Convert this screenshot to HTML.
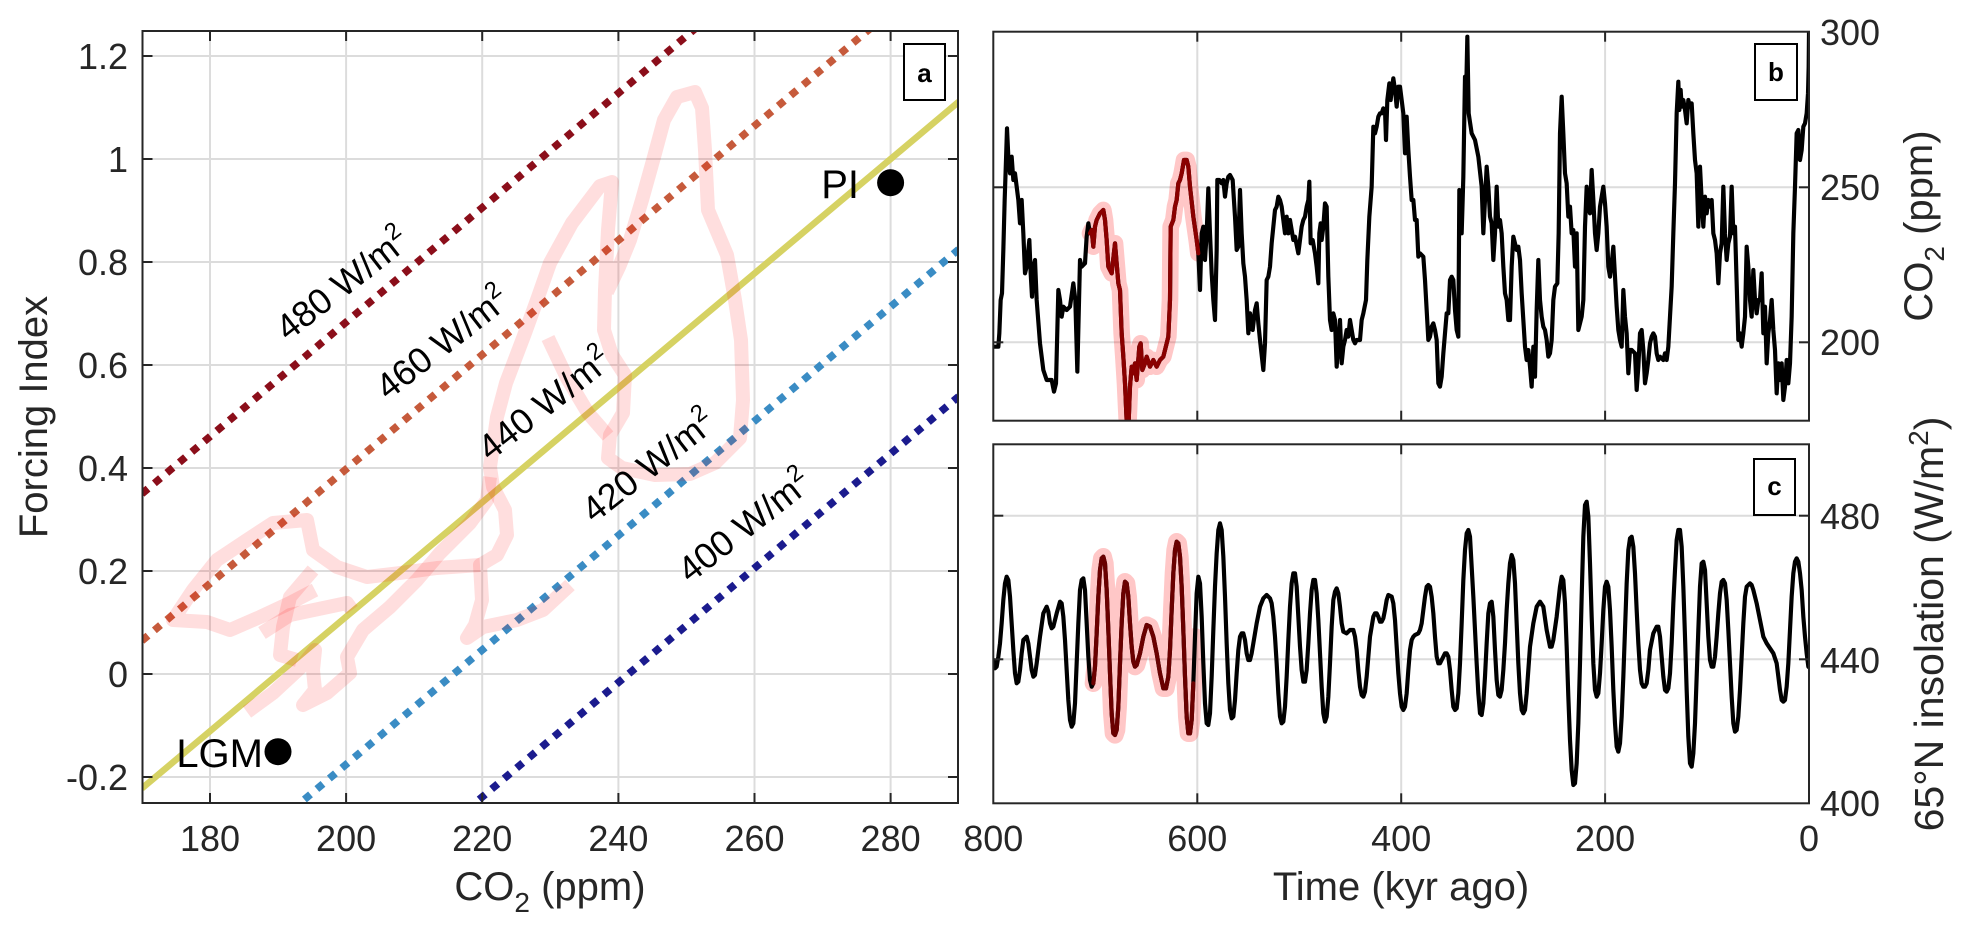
<!DOCTYPE html>
<html>
<head>
<meta charset="utf-8">
<style>
html,body{margin:0;padding:0;background:#fff;width:1971px;height:939px;overflow:hidden;}
svg{display:block;overflow:hidden;}
text{font-family:"Liberation Sans",Arial,sans-serif;}
</style>
</head>
<body>
<svg width="1971" height="939" viewBox="0 0 1971 939" xmlns="http://www.w3.org/2000/svg">
<defs>
<clipPath id="ca"><rect x="142.5" y="31" width="815.5" height="772"/></clipPath>
<clipPath id="cb"><rect x="993.3" y="31.7" width="815.7" height="389"/></clipPath>
<clipPath id="cc"><rect x="993.3" y="444.3" width="815.7" height="359"/></clipPath>
</defs>
<rect width="1971" height="939" fill="#fff"/>

<!-- ================= PANEL A ================= -->
<g stroke="#dcdcdc" stroke-width="2" fill="none">
<line x1="210" y1="31" x2="210" y2="803"/>
<line x1="346.1" y1="31" x2="346.1" y2="803"/>
<line x1="482.2" y1="31" x2="482.2" y2="803"/>
<line x1="618.4" y1="31" x2="618.4" y2="803"/>
<line x1="754.5" y1="31" x2="754.5" y2="803"/>
<line x1="890.6" y1="31" x2="890.6" y2="803"/>
<line x1="142.5" y1="777" x2="958" y2="777"/>
<line x1="142.5" y1="674" x2="958" y2="674"/>
<line x1="142.5" y1="571" x2="958" y2="571"/>
<line x1="142.5" y1="468" x2="958" y2="468"/>
<line x1="142.5" y1="365" x2="958" y2="365"/>
<line x1="142.5" y1="262" x2="958" y2="262"/>
<line x1="142.5" y1="159" x2="958" y2="159"/>
<line x1="142.5" y1="56" x2="958" y2="56"/>
</g>

<g clip-path="url(#ca)" fill="none">
<line x1="141.9" y1="493.8" x2="699.5" y2="25" stroke="#8b0e1a" stroke-width="7.5" stroke-dasharray="8 8.3"/>
<line x1="141.9" y1="640.8" x2="874.4" y2="25" stroke="#c65a3b" stroke-width="7.5" stroke-dasharray="8 8.3"/>
<line x1="141.9" y1="788.4" x2="958.7" y2="101.8" stroke="#d6d263" stroke-width="6.5"/>
<line x1="291.9" y1="810" x2="958.7" y2="249.4" stroke="#3a8cc4" stroke-width="7.5" stroke-dasharray="8 8.3"/>
<line x1="466.7" y1="810" x2="958.7" y2="396.5" stroke="#1b1b8e" stroke-width="7.5" stroke-dasharray="8 8.3"/>

<g stroke="#ff0000" stroke-opacity="0.13" stroke-width="14" stroke-linejoin="round" stroke-linecap="butt">
<polyline points="570,585 543,610 517,620 483,627 467,638 475,625 482,600 480,565 497,555 507,535 505,510 493,487 490,467 497,417 506,383 525,333 537,300 550,263 572,223 600,186 612,182 608,230 605,290 604,330 612,355 625,375 623,413 610,435 608,458 622,468 655,475 690,474 715,463 740,438 743,400 741,340 735,300 727,255 708,210 705,150 702,108 695,92 677,97 664,120 654,157 642,200 630,240 619,267 607,292"/>
<polyline points="548,338 567,378 588,413 608,436"/>
<polyline points="480,565 437,568 400,573 367,577 337,567 313,550 307,520 273,523 247,540 217,560 193,590 173,620 207,622 230,630 260,617 290,603 315,590"/>
<polyline points="313,570 290,597 283,627 280,655 297,660"/>
<polyline points="262,633 290,615 347,603 352,610"/>
<polyline points="247,712 273,693 300,668 315,650 313,670 315,690 303,705 327,693 350,673 347,657 363,630 390,607 417,580 440,553 470,523 487,500 490,477"/>
</g>
</g>

<!-- line labels -->
<g font-size="36" fill="#000">
<text transform="translate(288,342) rotate(-38)">480 W/m<tspan dy="-15" font-size="24">2</tspan></text>
<text transform="translate(388,401) rotate(-38)">460 W/m<tspan dy="-15" font-size="24">2</tspan></text>
<text transform="translate(490,462) rotate(-38)">440 W/m<tspan dy="-15" font-size="24">2</tspan></text>
<text transform="translate(594,524) rotate(-38)">420 W/m<tspan dy="-15" font-size="24">2</tspan></text>
<text transform="translate(690,584) rotate(-38)">400 W/m<tspan dy="-15" font-size="24">2</tspan></text>
</g>

<!-- PI / LGM -->
<circle cx="890.6" cy="182.7" r="13.5" fill="#000"/>
<text x="859" y="198" font-size="40" text-anchor="end" fill="#000">PI</text>
<circle cx="278" cy="751.7" r="13.5" fill="#000"/>
<text x="263" y="767" font-size="40" text-anchor="end" fill="#000">LGM</text>

<!-- frame a -->
<rect x="142.5" y="31" width="815.5" height="772" fill="none" stroke="#262626" stroke-width="2"/>
<g stroke="#262626" stroke-width="2">
<line x1="210" y1="803" x2="210" y2="793"/><line x1="210" y1="31" x2="210" y2="41"/>
<line x1="346.1" y1="803" x2="346.1" y2="793"/><line x1="346.1" y1="31" x2="346.1" y2="41"/>
<line x1="482.2" y1="803" x2="482.2" y2="793"/><line x1="482.2" y1="31" x2="482.2" y2="41"/>
<line x1="618.4" y1="803" x2="618.4" y2="793"/><line x1="618.4" y1="31" x2="618.4" y2="41"/>
<line x1="754.5" y1="803" x2="754.5" y2="793"/><line x1="754.5" y1="31" x2="754.5" y2="41"/>
<line x1="890.6" y1="803" x2="890.6" y2="793"/><line x1="890.6" y1="31" x2="890.6" y2="41"/>
<line x1="142.5" y1="777" x2="152.5" y2="777"/><line x1="958" y1="777" x2="948" y2="777"/>
<line x1="142.5" y1="674" x2="152.5" y2="674"/><line x1="958" y1="674" x2="948" y2="674"/>
<line x1="142.5" y1="571" x2="152.5" y2="571"/><line x1="958" y1="571" x2="948" y2="571"/>
<line x1="142.5" y1="468" x2="152.5" y2="468"/><line x1="958" y1="468" x2="948" y2="468"/>
<line x1="142.5" y1="365" x2="152.5" y2="365"/><line x1="958" y1="365" x2="948" y2="365"/>
<line x1="142.5" y1="262" x2="152.5" y2="262"/><line x1="958" y1="262" x2="948" y2="262"/>
<line x1="142.5" y1="159" x2="152.5" y2="159"/><line x1="958" y1="159" x2="948" y2="159"/>
<line x1="142.5" y1="56" x2="152.5" y2="56"/><line x1="958" y1="56" x2="948" y2="56"/>
</g>
<g font-size="36" fill="#262626" text-anchor="end">
<text x="128" y="790">-0.2</text>
<text x="128" y="687">0</text>
<text x="128" y="584">0.2</text>
<text x="128" y="481">0.4</text>
<text x="128" y="378">0.6</text>
<text x="128" y="275">0.8</text>
<text x="128" y="172">1</text>
<text x="128" y="69">1.2</text>
</g>
<g font-size="36" fill="#262626" text-anchor="middle">
<text x="210" y="851">180</text>
<text x="346.1" y="851">200</text>
<text x="482.2" y="851">220</text>
<text x="618.4" y="851">240</text>
<text x="754.5" y="851">260</text>
<text x="890.6" y="851">280</text>
</g>
<text x="550" y="900" font-size="40" fill="#262626" text-anchor="middle">CO<tspan dy="12" font-size="28">2</tspan><tspan dy="-12"> (ppm)</tspan></text>
<text transform="translate(47,417) rotate(-90)" font-size="40" fill="#262626" text-anchor="middle">Forcing Index</text>

<rect x="904" y="44" width="41" height="56" fill="#fff" stroke="#000" stroke-width="2"/>
<text x="924.5" y="82" font-size="26" font-weight="bold" text-anchor="middle" fill="#000">a</text>

<!-- ================= PANEL B ================= -->
<g stroke="#dcdcdc" stroke-width="2">
<line x1="1197.3" y1="31.7" x2="1197.3" y2="420.7"/>
<line x1="1401.2" y1="31.7" x2="1401.2" y2="420.7"/>
<line x1="1605.1" y1="31.7" x2="1605.1" y2="420.7"/>
<line x1="993.3" y1="187.3" x2="1809" y2="187.3"/>
<line x1="993.3" y1="342.3" x2="1809" y2="342.3"/>
</g>
<g clip-path="url(#cb)">
<g transform="translate(980,0) scale(0.333333)" fill="none" stroke-linejoin="round" stroke-linecap="round">
<polyline stroke="#ff0000" stroke-opacity="0.22" stroke-width="50" points="330,700 335,690 340,740 345,680 350,660 360,640 370,630 375,660 380,720 385,800 395,820 405,730 410,790 415,850 420,870 425,1000 430,1070 435,1150 440,1255 446,1255 450,1160 455,1100 460,1120 465,1090 470,1140 478,1040 482,1030 487,1110 495,1090 500,1070 510,1100 520,1080 530,1100 540,1080 550,1070 560,1030 565,1010 570,900 572,680 580,660 585,620 590,600 595,550 600,540 605,520 612,480 620,480 625,500 630,560 640,650 650,720 655,760"/>
<polyline stroke="#000" stroke-width="12.5" points="40,1040 55,1040 58,1000 62,900 66,880 70,750 74,600 78,480 81,385 85,470 90,520 95,470 100,540 105,520 110,560 115,600 120,670 125,600 130,700 135,820 140,800 148,720 152,820 156,890 160,800 165,780 170,900 180,1030 190,1110 200,1140 215,1140 222,1175 228,1150 235,870 240,900 245,950 250,920 260,930 270,920 280,850 286,900 292,1115 300,780 305,800 315,790 320,710 325,670 330,700 335,690 340,740 345,680 350,660 360,640 370,630 375,660 380,720 385,800 395,820 405,730 410,790 415,850 420,870 425,1000 430,1070 435,1150 440,1265 446,1265 450,1160 455,1100 460,1120 465,1090 470,1140 478,1040 482,1030 487,1110 495,1090 500,1070 510,1100 520,1080 530,1100 540,1080 550,1070 560,1030 565,1010 570,900 572,680 580,660 585,620 590,600 595,550 600,540 605,520 612,480 620,480 625,500 630,560 640,650 650,720 655,760 660,870 665,700 670,680 675,780 680,700 685,565 690,700 695,820 700,900 705,960 710,750 712,540 718,540 725,550 730,540 735,590 740,550 745,530 750,525 758,540 765,650 770,750 775,740 780,570 785,700 790,790 795,830 800,900 805,1000 810,940 818,990 825,930 830,910 835,970 840,1020 850,1110 855,1030 860,840 865,830 870,800 875,730 880,680 885,630 890,620 895,590 900,600 905,620 910,660 915,700 920,650 925,700 930,660 935,690 940,720 945,710 955,760 960,720 965,680 970,660 975,650 980,620 985,600 988,545 992,730 998,720 1005,760 1010,800 1015,850 1018,700 1022,670 1025,720 1030,680 1035,610 1040,620 1045,830 1050,960 1055,990 1060,940 1065,960 1070,1100 1075,1030 1080,960 1085,1090 1090,1040 1095,1020 1100,990 1105,1010 1110,960 1115,990 1120,1020 1125,1030 1130,1020 1140,1020 1145,960 1150,940 1158,900 1162,780 1168,650 1175,560 1180,380 1185,400 1190,380 1195,350 1200,340 1205,340 1210,325 1215,330 1218,420 1222,300 1228,250 1232,300 1235,270 1240,235 1245,270 1250,320 1255,260 1260,260 1265,300 1270,340 1275,460 1280,350 1285,450 1290,530 1295,600 1300,600 1305,660 1310,660 1315,770 1320,760 1330,770 1335,840 1340,930 1345,1020 1350,1010 1355,980 1360,970 1365,990 1370,1020 1375,1150 1380,1160 1385,1130 1390,1060 1395,1000 1400,940 1405,940 1410,840 1415,830 1420,840 1425,930 1430,990 1435,1010 1438,570 1442,580 1445,700 1448,600 1450,530 1455,230 1458,300 1462,110 1466,340 1475,400 1485,420 1495,470 1505,560 1510,700 1515,600 1520,500 1525,560 1530,650 1535,670 1540,780 1545,700 1550,560 1555,680 1560,660 1565,700 1570,800 1575,880 1580,900 1585,960 1590,960 1595,800 1600,710 1605,730 1610,750 1615,740 1620,780 1625,880 1630,960 1635,1040 1640,1080 1645,1050 1650,1100 1655,1160 1660,1040 1665,1130 1670,930 1675,780 1680,900 1685,950 1690,980 1695,990 1700,1020 1705,1070 1710,1060 1715,1020 1720,900 1725,860 1732,850 1736,700 1740,400 1745,290 1750,400 1755,520 1760,550 1765,650 1770,620 1775,700 1780,690 1785,800 1790,700 1795,990 1800,970 1805,950 1810,900 1815,680 1820,560 1825,620 1830,640 1835,510 1840,600 1845,700 1850,750 1855,700 1860,620 1865,590 1870,560 1875,610 1880,680 1885,800 1890,830 1895,790 1900,740 1905,830 1910,920 1915,990 1920,1020 1925,1040 1930,870 1935,950 1940,1000 1945,1120 1950,1050 1955,1050 1965,1060 1970,1170 1975,1100 1980,1000 1985,990 1990,1050 1995,1150 2000,1120 2005,1080 2010,1030 2015,1010 2020,1000 2025,1010 2030,1060 2035,1080 2040,1070 2050,1080 2055,1060 2060,1080 2065,1040 2070,950 2075,860 2080,700 2085,550 2090,340 2095,245 2098,330 2102,270 2105,320 2110,300 2115,330 2120,370 2125,300 2130,320 2135,310 2140,400 2145,480 2150,520 2155,680 2160,500 2165,600 2170,680 2175,590 2180,640 2185,600 2190,620 2195,600 2200,700 2205,720 2210,760 2215,850 2220,760 2225,730 2230,560 2235,700 2240,780 2245,730 2250,710 2255,560 2260,700 2265,680 2270,850 2275,1020 2280,1000 2285,1040 2290,1000 2295,950 2300,740 2305,800 2310,900 2315,950 2320,810 2325,900 2330,940 2335,900 2340,900 2345,820 2350,1000 2355,920 2360,1090 2365,1000 2370,960 2375,900 2380,990 2385,1050 2390,1180 2395,1090 2400,1140 2405,1090 2410,1200 2415,1160 2420,1080 2425,1150 2430,1090 2435,950 2440,700 2445,560 2450,400 2455,390 2460,480 2465,450 2470,380 2475,370 2480,340 2484,280 2486,200 2487,95"/>
<polyline stroke="#8a0000" stroke-width="12.5" points="330,700 335,690 340,740 345,680 350,660 360,640 370,630 375,660 380,720 385,800 395,820 405,730 410,790 415,850 420,870 425,1000 430,1070 435,1150 440,1265 446,1265 450,1160 455,1100 460,1120 465,1090 470,1140 478,1040 482,1030 487,1110 495,1090 500,1070 510,1100 520,1080 530,1100 540,1080 550,1070 560,1030 565,1010 570,900 572,680 580,660 585,620 590,600 595,550 600,540 605,520 612,480 620,480 625,500 630,560 640,650 650,720 655,760"/>
</g>
</g>
<rect x="993.3" y="31.7" width="815.7" height="389" fill="none" stroke="#262626" stroke-width="2"/>
<g stroke="#262626" stroke-width="2">
<line x1="1197.3" y1="31.7" x2="1197.3" y2="41.7"/><line x1="1197.3" y1="420.7" x2="1197.3" y2="410.7"/>
<line x1="1401.2" y1="31.7" x2="1401.2" y2="41.7"/><line x1="1401.2" y1="420.7" x2="1401.2" y2="410.7"/>
<line x1="1605.1" y1="31.7" x2="1605.1" y2="41.7"/><line x1="1605.1" y1="420.7" x2="1605.1" y2="410.7"/>
<line x1="993.3" y1="187.3" x2="1003.3" y2="187.3"/><line x1="1809" y1="187.3" x2="1799" y2="187.3"/>
<line x1="993.3" y1="342.3" x2="1003.3" y2="342.3"/><line x1="1809" y1="342.3" x2="1799" y2="342.3"/>
</g>
<g font-size="36" fill="#262626">
<text x="1820" y="45">300</text>
<text x="1820" y="200">250</text>
<text x="1820" y="355">200</text>
</g>
<text transform="translate(1932,226) rotate(-90)" font-size="40" fill="#262626" text-anchor="middle">CO<tspan dy="12" font-size="28">2</tspan><tspan dy="-12"> (ppm)</tspan></text>
<rect x="1755" y="44" width="42" height="56" fill="#fff" stroke="#000" stroke-width="2"/>
<text x="1776" y="81" font-size="26" font-weight="bold" text-anchor="middle" fill="#000">b</text>

<!-- ================= PANEL C ================= -->
<g stroke="#dcdcdc" stroke-width="2">
<line x1="1197.3" y1="444.3" x2="1197.3" y2="803.3"/>
<line x1="1401.2" y1="444.3" x2="1401.2" y2="803.3"/>
<line x1="1605.1" y1="444.3" x2="1605.1" y2="803.3"/>
<line x1="993.3" y1="515.7" x2="1809" y2="515.7"/>
<line x1="993.3" y1="659.3" x2="1809" y2="659.3"/>
</g>
<g clip-path="url(#cc)">
<g transform="translate(980,430) scale(0.333333)" fill="none" stroke-linejoin="round" stroke-linecap="round">
<polyline stroke="#ff0000" stroke-opacity="0.22" stroke-width="52" points="340,760 345,710 350,610 355,500 360,420 365,385 370,380 375,400 380,480 385,600 390,730 395,850 400,910 405,915 410,900 415,830 420,700 425,580 430,490 435,455 440,460 445,500 450,580 455,650 460,695 465,710 470,705 480,670 490,620 500,585 510,590 520,620 530,670 540,730 550,775 558,775 565,740 570,660 575,540 580,430 585,360 590,335 595,340 600,380 605,470 610,600 615,740 620,860 625,910 630,910 635,870 640,760 645,620"/>
<polyline stroke="#000" stroke-width="12.5" points="40,690 45,715 50,710 55,680 60,640 65,580 70,510 75,460 80,440 85,450 90,500 95,580 100,660 105,730 110,760 115,755 120,720 125,670 130,630 140,620 145,640 150,680 155,720 160,740 165,735 170,700 180,620 190,550 200,530 205,545 210,580 215,595 220,590 230,550 240,515 245,520 250,560 255,630 260,720 265,810 270,870 275,890 280,880 285,820 290,700 295,580 300,480 305,450 310,445 315,480 320,580 325,680 330,750 335,770 340,760 345,710 350,610 355,500 360,420 365,385 370,380 375,400 380,480 385,600 390,730 395,850 400,910 405,915 410,900 415,830 420,700 425,580 430,490 435,455 440,460 445,500 450,580 455,650 460,695 465,710 470,705 480,670 490,620 500,585 510,590 520,620 530,670 540,730 550,775 558,775 565,740 570,660 575,540 580,430 585,360 590,335 595,340 600,380 605,470 610,600 615,740 620,860 625,910 630,910 635,870 640,760 645,620 650,490 655,440 660,460 665,560 670,700 675,820 680,880 685,885 690,850 695,740 700,600 705,470 710,370 715,300 720,280 725,300 730,380 735,500 740,640 745,760 750,840 755,865 760,860 765,810 770,730 775,660 780,620 785,610 790,610 795,630 800,670 805,690 810,690 815,670 820,640 830,580 840,530 850,505 860,495 870,505 875,520 880,560 885,620 890,700 895,790 900,860 905,880 910,875 915,830 920,740 925,630 930,530 935,460 940,430 945,430 950,470 955,560 960,650 965,720 970,755 975,755 980,720 985,640 990,550 995,480 1000,450 1005,450 1010,490 1015,570 1020,670 1025,770 1030,850 1035,875 1040,860 1045,800 1050,700 1055,590 1060,510 1065,485 1070,475 1075,490 1080,530 1085,580 1090,605 1100,610 1110,600 1120,600 1125,620 1130,660 1135,720 1140,770 1145,795 1150,800 1155,785 1160,740 1165,680 1170,620 1180,560 1185,550 1190,550 1195,560 1200,575 1205,575 1210,565 1215,540 1220,510 1225,495 1235,500 1240,520 1245,570 1250,650 1255,730 1260,790 1265,830 1270,840 1275,830 1280,790 1285,720 1290,660 1295,630 1300,620 1305,615 1315,610 1320,600 1325,580 1330,540 1335,500 1340,470 1345,465 1350,470 1355,500 1360,550 1365,620 1370,680 1375,700 1380,700 1385,690 1390,680 1395,670 1400,670 1405,680 1410,720 1415,780 1420,830 1425,840 1430,835 1435,790 1440,700 1445,580 1450,450 1455,360 1460,310 1465,300 1470,320 1480,500 1490,700 1495,790 1500,850 1505,855 1510,820 1515,740 1520,640 1525,550 1530,520 1535,515 1540,560 1545,660 1550,750 1555,795 1560,800 1565,780 1570,720 1575,640 1580,540 1585,460 1590,400 1595,375 1600,390 1605,460 1610,580 1615,700 1620,790 1625,840 1630,850 1635,840 1640,790 1645,720 1650,650 1660,580 1670,530 1680,515 1690,530 1700,600 1710,650 1715,650 1720,630 1730,560 1740,470 1745,440 1750,450 1755,520 1760,650 1765,800 1770,930 1775,1020 1780,1065 1785,1060 1790,1000 1795,880 1800,700 1805,500 1810,320 1815,225 1820,215 1825,260 1830,400 1835,560 1840,700 1845,780 1850,800 1855,790 1860,730 1865,640 1870,540 1875,470 1880,455 1885,470 1890,540 1895,650 1900,780 1905,880 1910,950 1915,965 1920,940 1925,860 1930,740 1935,600 1940,460 1945,360 1950,325 1955,320 1960,350 1965,430 1970,540 1975,640 1980,720 1985,760 1990,770 1995,770 2000,760 2005,720 2010,660 2020,610 2030,590 2035,590 2040,620 2045,680 2050,740 2055,780 2060,785 2065,775 2070,730 2075,640 2080,520 2085,420 2090,330 2095,300 2100,300 2105,350 2110,470 2115,620 2120,780 2125,920 2130,1000 2135,1010 2140,970 2145,880 2150,740 2155,600 2160,470 2165,400 2170,395 2175,420 2180,520 2185,620 2190,690 2195,710 2200,710 2205,680 2210,620 2215,550 2220,490 2225,455 2230,450 2235,460 2240,510 2245,600 2250,700 2255,800 2260,880 2265,905 2270,900 2275,860 2280,780 2285,680 2290,580 2295,500 2300,470 2310,460 2315,465 2320,480 2330,520 2340,570 2350,620 2360,640 2370,655 2380,670 2390,700 2395,740 2400,780 2405,810 2410,815 2415,810 2420,770 2425,700 2430,600 2435,500 2440,430 2445,395 2450,385 2455,395 2460,430 2465,480 2470,560 2475,620 2480,670 2485,710 2487,712"/>
<polyline stroke="#6a0000" stroke-width="12.5" points="340,760 345,710 350,610 355,500 360,420 365,385 370,380 375,400 380,480 385,600 390,730 395,850 400,910 405,915 410,900 415,830 420,700 425,580 430,490 435,455 440,460 445,500 450,580 455,650 460,695 465,710 470,705 480,670 490,620 500,585 510,590 520,620 530,670 540,730 550,775 558,775 565,740 570,660 575,540 580,430 585,360 590,335 595,340 600,380 605,470 610,600 615,740 620,860 625,910 630,910 635,870 640,760"/>
</g>
</g>
<rect x="993.3" y="444.3" width="815.7" height="359" fill="none" stroke="#262626" stroke-width="2"/>
<g stroke="#262626" stroke-width="2">
<line x1="1197.3" y1="444.3" x2="1197.3" y2="454.3"/><line x1="1197.3" y1="803.3" x2="1197.3" y2="793.3"/>
<line x1="1401.2" y1="444.3" x2="1401.2" y2="454.3"/><line x1="1401.2" y1="803.3" x2="1401.2" y2="793.3"/>
<line x1="1605.1" y1="444.3" x2="1605.1" y2="454.3"/><line x1="1605.1" y1="803.3" x2="1605.1" y2="793.3"/>
<line x1="993.3" y1="515.7" x2="1003.3" y2="515.7"/><line x1="1809" y1="515.7" x2="1799" y2="515.7"/>
<line x1="993.3" y1="659.3" x2="1003.3" y2="659.3"/><line x1="1809" y1="659.3" x2="1799" y2="659.3"/>
</g>
<g font-size="36" fill="#262626">
<text x="1820" y="529">480</text>
<text x="1820" y="673">440</text>
<text x="1820" y="816">400</text>
</g>
<g font-size="36" fill="#262626" text-anchor="middle">
<text x="993.3" y="851">800</text>
<text x="1197.3" y="851">600</text>
<text x="1401.2" y="851">400</text>
<text x="1605.1" y="851">200</text>
<text x="1809" y="851">0</text>
</g>
<text x="1401" y="900" font-size="40" fill="#262626" text-anchor="middle">Time (kyr ago)</text>
<text transform="translate(1943,624) rotate(-90)" font-size="41" fill="#262626" text-anchor="middle">65°N insolation (W/m<tspan dy="-15" font-size="28">2</tspan><tspan dy="15">)</tspan></text>
<rect x="1754" y="459" width="41" height="56" fill="#fff" stroke="#000" stroke-width="2"/>
<text x="1774.5" y="495" font-size="26" font-weight="bold" text-anchor="middle" fill="#000">c</text>
</svg>
</body>
</html>
